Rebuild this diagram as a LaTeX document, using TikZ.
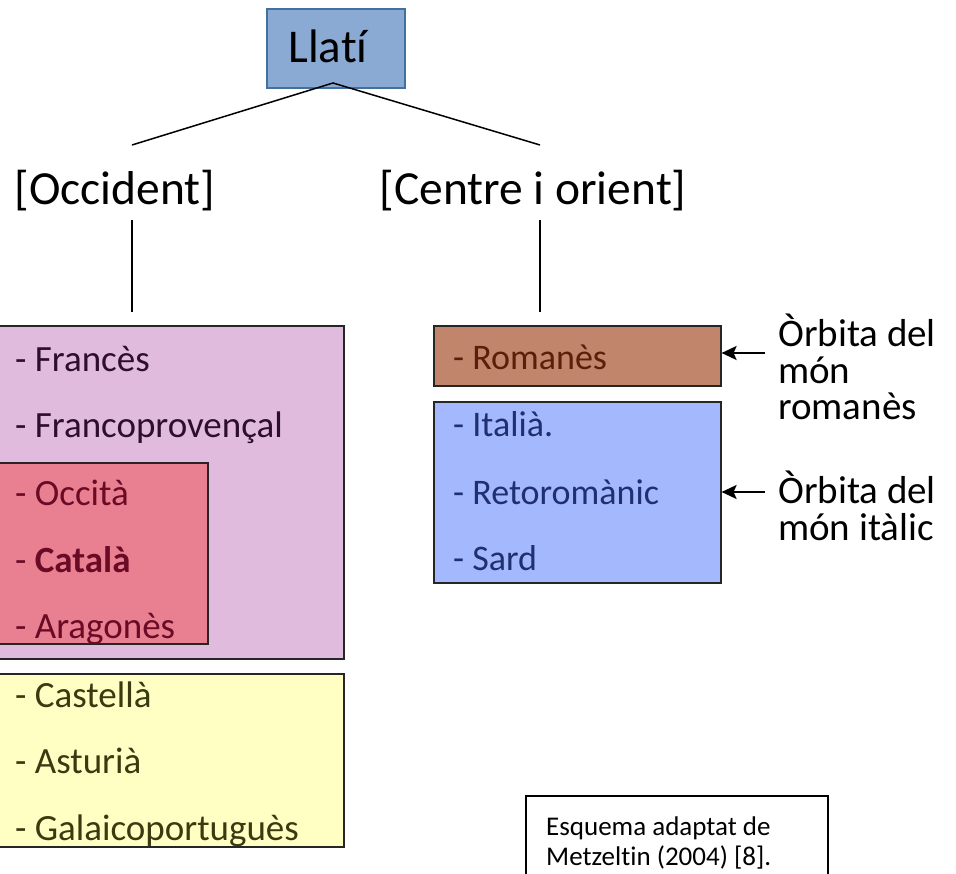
\documentclass[tikz,border=0pt]{standalone}
\usepackage{fontspec}
\setmainfont{Carlito}[Ligatures=NoCommon]
\usetikzlibrary{arrows.meta}
\definecolor{latfill}{RGB}{138,170,211}
\definecolor{latdraw}{RGB}{65,113,156}
\definecolor{purp}{RGB}{224,187,221}
\definecolor{redb}{RGB}{232,128,146}
\definecolor{yelb}{RGB}{255,255,196}
\definecolor{romb}{RGB}{192,133,106}
\definecolor{blub}{RGB}{164,184,254}
\definecolor{purt}{RGB}{45,14,45}
\definecolor{redt}{RGB}{106,10,37}
\definecolor{yelt}{RGB}{58,58,16}
\definecolor{romt}{RGB}{90,30,10}
\definecolor{blut}{RGB}{31,47,111}
\tikzset{
  box/.style={draw=black!85, line width=1.6pt, anchor=north west, inner sep=0pt},
  big/.style={font=\fontsize{47.5}{55}\selectfont},
  item/.style={font=\fontsize{37}{44}\selectfont, anchor=base west, inner sep=0pt},
  ritem/.style={font=\fontsize{36}{44}\selectfont, anchor=base west, inner sep=0pt},
  side/.style={font=\fontsize{39}{45}\selectfont, anchor=base west, inner sep=0pt},
  notet/.style={font=\fontsize{27}{32}\selectfont, anchor=base west, inner sep=0pt},
  conn/.style={line width=1.5pt},
  arr/.style={line width=2pt, -{Stealth[length=15pt,width=14pt,inset=3pt]}}
}
\begin{document}
\begin{tikzpicture}[x=1pt,y=-1pt]
\useasboundingbox (0,0) rectangle (956,874);
% Llati
\node[box, draw=latdraw, fill=latfill, minimum width=138pt, minimum height=79pt] (lat) at (266,8) {};
\node[font=\fontsize{47}{55}\selectfont, anchor=base] (latt) at (328,63) {Llatí};
\coordinate (apex) at (333,83);
% branches
\node[big, anchor=base] (occ) at (115,205) {[Occident]};
\node[big, anchor=base] (cen) at (533,205) {[Centre i orient]};
\coordinate (le) at (132,145);
\coordinate (re) at (540,145);
\draw[conn] (le) -- (apex) -- (re);
\coordinate (lv1) at (132,220); \coordinate (lv2) at (132,312);
\coordinate (rv1) at (540,220); \coordinate (rv2) at (540,312);
\draw[conn] (lv1) -- (lv2);
\draw[conn] (rv1) -- (rv2);
% left boxes
\node[box, fill=purp, minimum width=353pt, minimum height=333pt] (pbox) at (-10,325) {};
\node[box, fill=redb, minimum width=217pt, minimum height=181pt] (rbox) at (-10,462) {};
\node[box, fill=yelb, minimum width=353pt, minimum height=173pt] (ybox) at (-10,673) {};
\node[item, text=purt] (fr) at (15,372) {- Francès};
\node[item, text=purt] (fp) at (15,438) {- Francoprovençal};
\node[item, text=redt] (oc) at (15,505) {- Occità};
\node[item, text=redt] (ca) at (15,572) {- \textbf{Català}};
\node[item, text=redt] (ar) at (15,638) {- Aragonès};
\node[item, text=yelt] (cs) at (15,707) {- Castellà};
\node[item, text=yelt] (as) at (15,773) {- Asturià};
\node[item, text=yelt] (ga) at (15,840) {- Galaicoportuguès};
% right boxes
\node[box, fill=romb, minimum width=287pt, minimum height=60pt] (robox) at (433,325) {};
\node[box, fill=blub, minimum width=287pt, minimum height=181pt] (bbox) at (433,401) {};
\node[ritem, text=romt] (ro) at (453,370) {- Romanès};
\node[ritem, text=blut] (it) at (453,437) {- Italià.};
\node[ritem, text=blut] (rt) at (453,504) {- Retoromànic};
\node[ritem, text=blut] (sa) at (453,570) {- Sard};
% side labels
\node[side] (s1) at (778,347) {Òrbita del};
\node[side] (s2) at (778,384) {món};
\node[side] (s3) at (778,420) {romanès};
\node[side] (s4) at (778,503) {Òrbita del};
\node[side] (s5) at (778,540) {món itàlic};
\coordinate (a1) at (765,353);
\coordinate (a2) at (765,492);
\draw[arr] (a1) -- (robox.east |- a1);
\draw[arr] (a2) -- (bbox.east |- a2);
% note
\node[box, draw=black, fill=white, minimum width=302pt, minimum height=95pt] (note) at (525,795) {};
\node[notet] (n1) at (546,835) {Esquema adaptat de};
\node[notet] (n2) at (546,865) {Metzeltin (2004) [8].};
\end{tikzpicture}
\end{document}
